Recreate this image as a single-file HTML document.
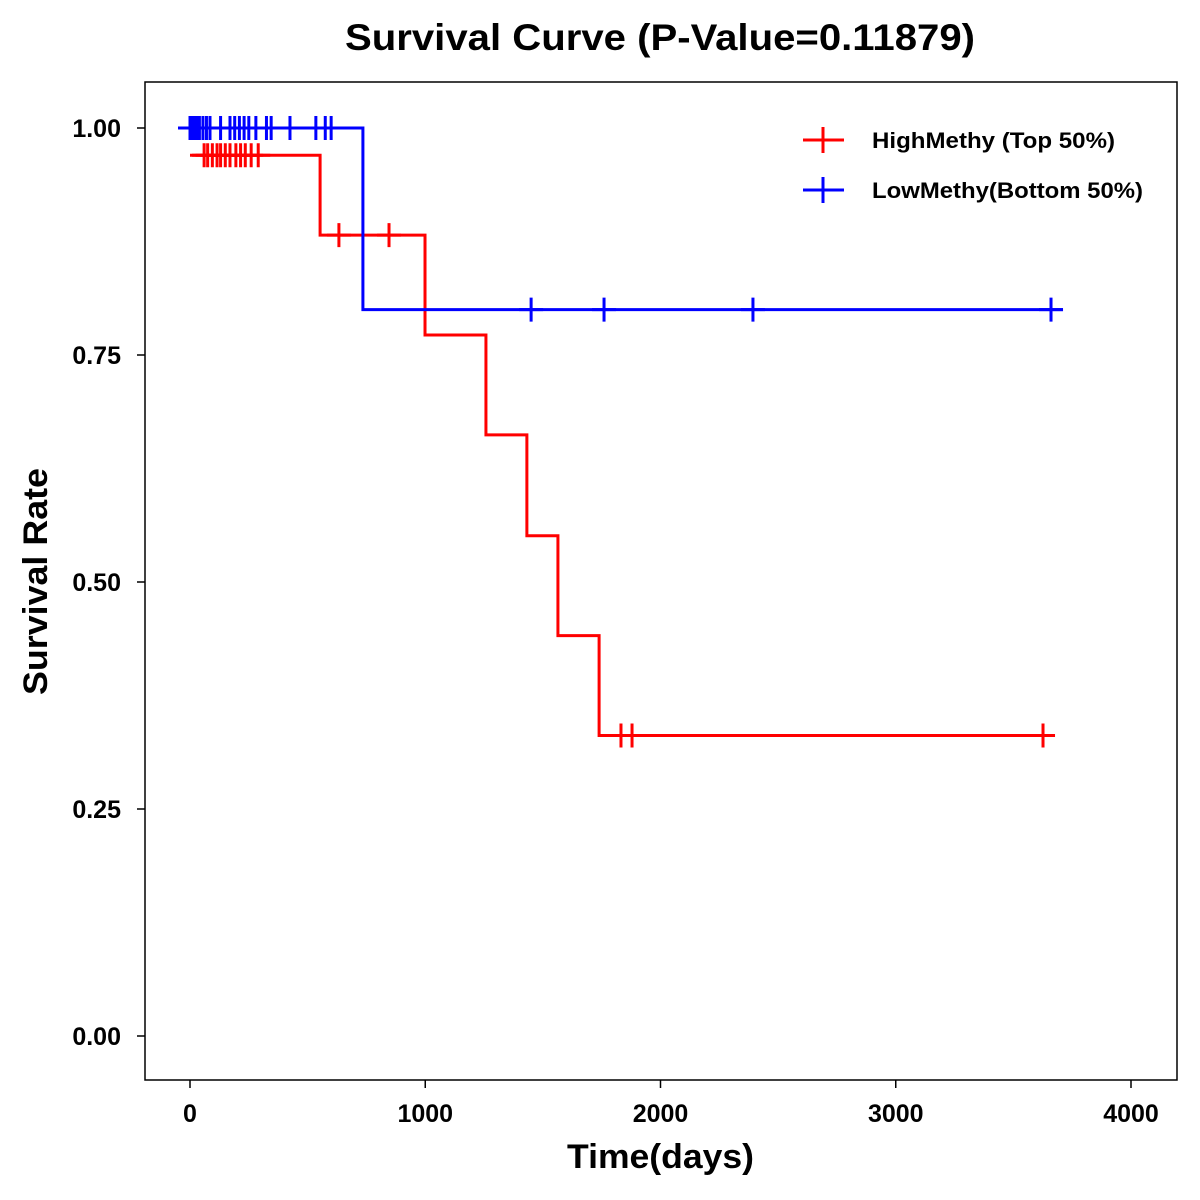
<!DOCTYPE html>
<html><head><meta charset="utf-8"><style>
html,body{margin:0;padding:0;background:#fff}
svg{display:block;font-family:"Liberation Sans",Arial,sans-serif;font-weight:bold}
</style></head><body>
<svg id="chart" width="1200" height="1200" viewBox="0 0 1200 1200" xmlns="http://www.w3.org/2000/svg">
<text x="345" y="50" font-size="37" textLength="630" lengthAdjust="spacingAndGlyphs">Survival Curve (P-Value=0.11879)</text>
<rect x="145" y="82" width="1032" height="998" fill="none" stroke="#000" stroke-width="1.5"/>
<g id="axes"></g>
<g id="series"></g>
<text x="567" y="1168" font-size="34" textLength="187" lengthAdjust="spacingAndGlyphs">Time(days)</text>
<text transform="translate(47,695) rotate(-90)" font-size="34" textLength="227" lengthAdjust="spacingAndGlyphs">Survival Rate</text>
<g>
 <g>
  <line x1="803" y1="140" x2="844" y2="140" stroke="#ff0000" stroke-width="3"/>
  <line x1="823" y1="127" x2="823" y2="153" stroke="#ff0000" stroke-width="3"/>
  <text x="872" y="148" font-size="22" textLength="243" lengthAdjust="spacingAndGlyphs">HighMethy (Top 50%)</text>
 </g>
 <g>
  <line x1="803" y1="190" x2="844" y2="190" stroke="#0000ff" stroke-width="3"/>
  <line x1="823" y1="177" x2="823" y2="203" stroke="#0000ff" stroke-width="3"/>
  <text x="872" y="198" font-size="22" textLength="271" lengthAdjust="spacingAndGlyphs">LowMethy(Bottom 50%)</text>
 </g>
</g>
</svg>
<script>
const xTicks = [0, 1000, 2000, 3000, 4000];
const yTicks = [0, 0.25, 0.5, 0.75, 1.0];
const yTickLabels = ["0.00", "0.25", "0.50", "0.75", "1.00"];
const highTimes = [0, 553, 999, 1258, 1432, 1564, 1739];
const highSurv = [0.970, 0.882, 0.772, 0.662, 0.551, 0.441, 0.331];
const highCensor = [60, 75, 95, 115, 130, 150, 170, 195, 215, 235, 260, 290, 633, 846, 1832, 1879, 3626];
const lowTimes = [0, 735];
const lowSurv = [1.0, 0.8];
const lowCensor = [0, 10, 20, 30, 40, 55, 70, 85, 130, 170, 190, 210, 230, 250, 280, 325, 345, 425, 535, 575, 600, 1450, 1760, 2393, 3660];

const NS = "http://www.w3.org/2000/svg";
const X = t => 190 + t * (941 / 4000);
const Y = s => 1036 - s * 908;
function mk(tag, attrs, parent) {
  const e = document.createElementNS(NS, tag);
  for (const k in attrs) e.setAttribute(k, attrs[k]);
  parent.appendChild(e);
  return e;
}
const axes = document.getElementById("axes");
xTicks.forEach(t => {
  const l = mk("line", {x1: X(t), x2: X(t), y1: 1080, y2: 1088, stroke: "#000", "stroke-width": 1.5}, axes);
  
  
  const tx = mk("text", {x: X(t), y: 1122, "text-anchor": "middle", "font-size": 25}, axes);
  tx.textContent = t;
  
  
});
yTicks.forEach((v, i) => {
  const l = mk("line", {x1: 137, x2: 145, y1: Y(v), y2: Y(v), stroke: "#000", "stroke-width": 1.5}, axes);
  
  
  const tx = mk("text", {x: 121, y: Y(v) + 9, "text-anchor": "end", "font-size": 25}, axes);
  tx.textContent = yTickLabels[i];
  
  
});
const series = document.getElementById("series");
function survAt(times, surv, t) {
  let s = surv[0];
  for (let i = 0; i < times.length; i++) if (t >= times[i]) s = surv[i];
  return s;
}
function draw(name, times, surv, censor, color) {
  const g = mk("g", {}, series);
  
  
  const end = Math.max(...censor);
  let d = "M" + X(times[0]) + "," + Y(surv[0]);
  for (let i = 1; i < times.length; i++) {
    d += " H" + X(times[i]) + " V" + Y(surv[i]);
  }
  d += " H" + (X(end) + 12);
  const p = mk("path", {d: d, fill: "none", stroke: color, "stroke-width": 3}, g);
  
  
  censor.forEach(t => {
    const s = survAt(times, surv, t);
    const m = mk("path", {d: "M" + (X(t) - 12) + "," + Y(s) + " H" + (X(t) + 12) + " M" + X(t) + "," + (Y(s) - 12) + " V" + (Y(s) + 12), stroke: color, "stroke-width": 3, fill: "none"}, g);
    
    
  });
}
draw("high", highTimes, highSurv, highCensor, "#ff0000");
draw("low", lowTimes, lowSurv, lowCensor, "#0000ff");
</script>
</body></html>
